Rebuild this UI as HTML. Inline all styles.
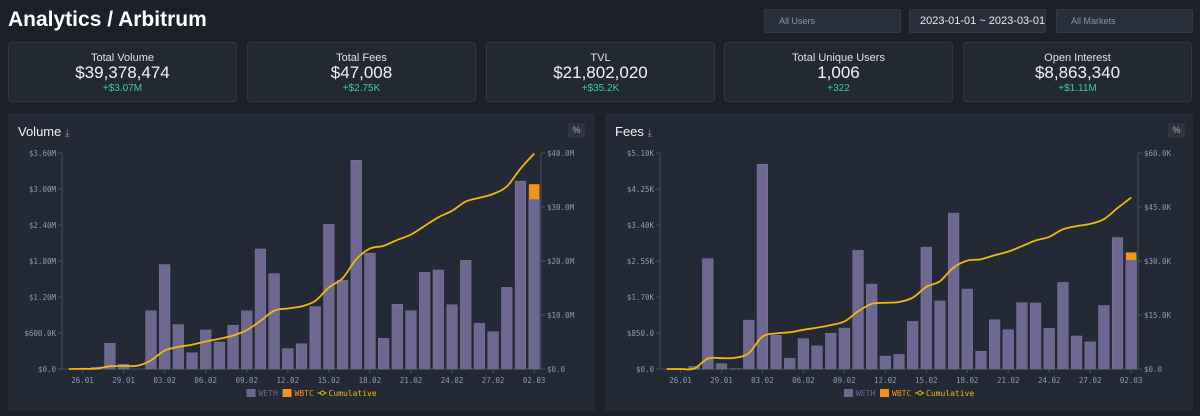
<!DOCTYPE html>
<html><head><meta charset="utf-8">
<style>
*{box-sizing:border-box;margin:0;padding:0}
body{width:1200px;height:416px;background:#1b2029;font-family:"Liberation Sans",sans-serif;color:#e8eaef;position:relative;overflow:hidden}
.title{position:absolute;left:8px;top:8px;font-size:21px;font-weight:bold;color:#fff}
.filter{position:absolute;top:9px;height:24px;width:137px;background:#2a303b;border:1px solid #333a46;border-radius:2px;font-size:9px;color:#8a909c;padding:6px 14px;white-space:nowrap;overflow:hidden}
.filter.date{font-size:11px;color:#e8eaef;padding:5px 10px}
.card{position:absolute;top:42px;height:60px;width:229px;background:#232933;border:1px solid #313844;border-radius:3px;text-align:center}
.card .l{font-size:11px;margin-top:9px;color:#e0e3e8}
.card .v{font-size:17px;line-height:18px;color:#f2f3f5}
.card .d{font-size:10px;color:#3ecf8e;margin-top:1px}
.panel{position:absolute;top:113px;height:298px;background:#232a35;border-radius:3px}
.ptitle{position:absolute;left:10px;top:11px;font-size:13px;color:#f0f2f5}
.pct{position:absolute;top:10px;width:17px;height:15px;background:#2e343e;border-radius:2px;font-size:9px;color:#aab;text-align:center;line-height:15px}
svg text{font-family:"DejaVu Sans Mono","Liberation Mono",monospace}
</style></head><body>
<div class="title">Analytics / Arbitrum</div>
<div class="filter" style="left:764px">All Users</div>
<div class="filter date" style="left:909px">2023-01-01 ~ 2023-03-01</div>
<div class="filter" style="left:1056px">All Markets</div>

<div class="card" style="left:8px"><div class="l">Total Volume</div><div class="v">$39,378,474</div><div class="d">+$3.07M</div></div>
<div class="card" style="left:247px"><div class="l">Total Fees</div><div class="v">$47,008</div><div class="d">+$2.75K</div></div>
<div class="card" style="left:486px"><div class="l">TVL</div><div class="v">$21,802,020</div><div class="d">+$35.2K</div></div>
<div class="card" style="left:724px"><div class="l">Total Unique Users</div><div class="v">1,006</div><div class="d">+322</div></div>
<div class="card" style="left:963px"><div class="l">Open Interest</div><div class="v">$8,863,340</div><div class="d">+$1.11M</div></div>

<div class="panel" style="left:8px;width:587px">
<div class="ptitle">Volume <span style="font-size:10px;color:#99a">⤓</span></div>
<div class="pct" style="left:560px">%</div>
<svg id="vol" width="587" height="298" style="position:absolute;left:0;top:0"></svg>
</div>
<div class="panel" style="left:605px;width:588px">
<div class="ptitle">Fees <span style="font-size:10px;color:#99a">⤓</span></div>
<div class="pct" style="left:563px">%</div>
<svg id="fee" width="588" height="298" style="position:absolute;left:0;top:0"></svg>
</div>

<script>
const dates=["25.01","26.01","27.01","28.01","29.01","31.01","02.02","03.02","04.02","05.02","06.02","07.02","08.02","09.02","10.02","11.02","12.02","13.02","14.02","15.02","16.02","17.02","18.02","19.02","20.02","21.02","22.02","23.02","24.02","25.02","26.02","27.02","28.02","01.03","02.03"];
const tickIdx=[1,4,7,10,13,16,19,22,25,28,31,34];
const volWeth=[0,0,0.03,0.43,0.08,0,0.97,1.74,0.74,0.27,0.65,0.45,0.73,0.97,2.0,1.59,0.34,0.42,1.04,2.41,1.48,3.48,1.93,0.51,1.08,0.97,1.61,1.65,1.07,1.81,0.76,0.62,1.36,3.13,2.83];
const volWbtc=[0,0,0,0,0,0,0,0,0,0,0,0,0,0,0,0,0,0,0,0,0,0,0,0,0,0,0,0,0,0,0,0,0,0,0.25];
const volCum=[0,0.03,0.08,0.5,0.55,0.6,1.6,3.4,4.1,4.5,5.1,5.6,6.2,7.2,8.9,10.8,11.2,11.6,12.6,15.1,16.8,20.3,22.3,22.8,23.9,24.9,26.5,28.1,29.3,31.0,31.7,32.4,33.8,37.1,39.9];
const volLeftTicks=["$0.0","$600.0K","$1.20M","$1.80M","$2.40M","$3.00M","$3.60M"];
const volRightTicks=["$0.0","$10.0M","$20.0M","$30.0M","$40.0M"];
const feeWeth=[0,0.01,0.06,2.605,0.125,0.005,1.154,4.835,0.795,0.25,0.717,0.546,0.842,0.967,2.8,2.004,0.304,0.343,1.123,2.877,1.606,3.681,1.887,0.421,1.162,0.928,1.567,1.56,0.959,2.043,0.78,0.639,1.497,3.104,2.573];
const feeWbtc=[0,0,0,0,0,0,0,0,0,0,0,0,0,0,0,0,0,0,0,0,0,0,0,0,0,0,0,0,0,0,0,0,0,0,0.18];
const feeCum=[0,0,0.1,2.9,3.0,3.1,4.4,9.0,9.9,10.2,10.9,11.5,12.2,13.2,16.0,18.1,18.4,18.6,19.8,22.8,24.4,28.2,30.1,30.5,31.6,32.6,34.1,35.7,36.7,38.8,39.7,40.3,41.6,44.7,47.6];
const feeLeftTicks=["$0.0","$850.0","$1.70K","$2.55K","$3.40K","$4.25K","$5.10K"];
const feeRightTicks=["$0.0","$15.0K","$30.0K","$45.0K","$60.0K"];

const NS="http://www.w3.org/2000/svg";
function mk(svg,tag,attrs){const e=document.createElementNS(NS,tag);for(const k in attrs)e.setAttribute(k,attrs[k]);svg.appendChild(e);return e;}
function smooth(pts){
  let d='M'+pts[0][0].toFixed(1)+','+pts[0][1].toFixed(1);
  for(let i=0;i<pts.length-1;i++){
    const p0=pts[Math.max(0,i-1)],p1=pts[i],p2=pts[i+1],p3=pts[Math.min(pts.length-1,i+2)];
    const c1x=p1[0]+(p2[0]-p0[0])/6,c1y=p1[1]+(p2[1]-p0[1])/6;
    const c2x=p2[0]-(p3[0]-p1[0])/6,c2y=p2[1]-(p3[1]-p1[1])/6;
    d+='C'+c1x.toFixed(1)+','+c1y.toFixed(1)+' '+c2x.toFixed(1)+','+c2y.toFixed(1)+' '+p2[0].toFixed(1)+','+p2[1].toFixed(1);
  }
  return d;
}
function draw(id,x0,x1,weth,wbtc,cum,lt,rt,lmax,rmax,prefix){
  const svg=document.getElementById(id);
  const yT=40,yB=256;
  const n=dates.length,band=(x1-x0)/n;
  const xc=i=>x0+band*(i+0.5);
  const yL=v=>yB-(v/lmax)*(yB-yT);
  const yR=v=>yB-(v/rmax)*(yB-yT);
  let a=mk(svg,'line',{x1:x0,x2:x0,y1:yT,y2:yB,stroke:'#4a505c'});
  
  a=mk(svg,'line',{x1:x1,x2:x1,y1:yT,y2:yB,stroke:'#4a505c'});
  
  a=mk(svg,'line',{x1:x0,x2:x1,y1:yB,y2:yB,stroke:'#4a505c'});
  
  lt.forEach((t,k)=>{const y=yB-k*(yB-yT)/(lt.length-1);
    mk(svg,'line',{x1:x0-4,x2:x0,y1:y,y2:y,stroke:'#4a505c'});
    const e=mk(svg,'text',{x:x0-6,y:y+3,'text-anchor':'end','font-size':7.5,fill:'#8f97b3'});e.textContent=t;
    });
  rt.forEach((t,k)=>{const y=yB-k*(yB-yT)/(rt.length-1);
    mk(svg,'line',{x1:x1,x2:x1+4,y1:y,y2:y,stroke:'#4a505c'});
    const e=mk(svg,'text',{x:x1+6,y:y+3,'font-size':7.5,fill:'#8f97b3'});e.textContent=t;
    });
  tickIdx.forEach(i=>{mk(svg,'line',{x1:xc(i),x2:xc(i),y1:yB,y2:yB+4,stroke:'#4a505c'});
    const e=mk(svg,'text',{x:xc(i),y:yB+14,'text-anchor':'middle','font-size':7.5,fill:'#8f97b3'});e.textContent=dates[i];
    });
  const bw=band*0.78;
  weth.forEach((v,i)=>{if(v<=0)return;
    const r=mk(svg,'rect',{x:xc(i)-bw/2,y:yL(v),width:bw,height:yB-yL(v),fill:'#6e6890',stroke:'#7f79a3','stroke-width':0.5});
    
    if(wbtc[i]>0){const b=mk(svg,'rect',{x:xc(i)-bw/2,y:yL(v+wbtc[i]),width:bw,height:yL(v)-yL(v+wbtc[i]),fill:'#f7931a'});
      }
  });
  const pts=cum.map((v,i)=>[xc(i),yR(v)]);
  const p=mk(svg,'path',{d:smooth(pts),fill:'none',stroke:'#f2b70f','stroke-width':1.8,'stroke-linejoin':'round'});
  
  const cx=(x0+x1)/2-55,ly=280;
  const g=mk(svg,'g',{});
  mk(g,'rect',{x:cx,y:ly-4,width:9,height:8,fill:'#6e6890'});
  let t=mk(g,'text',{x:cx+12,y:ly+3,'font-size':8,fill:'#6e6890'});t.textContent='WETH';
  mk(g,'rect',{x:cx+36,y:ly-4,width:9,height:8,fill:'#f7931a'});
  t=mk(g,'text',{x:cx+48,y:ly+3,'font-size':8,fill:'#f7931a'});t.textContent='WBTC';
  mk(g,'line',{x1:cx+71,x2:cx+80,y1:ly,y2:ly,stroke:'#f2b70f','stroke-width':1.2});
  mk(g,'circle',{cx:cx+76,cy:ly,r:2,fill:'#232a35',stroke:'#f2b70f'});
  t=mk(g,'text',{x:cx+82,y:ly+3,'font-size':8,fill:'#f2b70f'});t.textContent='Cumulative';
}
draw('vol',54,533,volWeth,volWbtc,volCum,volLeftTicks,volRightTicks,3.6,40,'volume');
draw('fee',55,533,feeWeth,feeWbtc,feeCum,feeLeftTicks,feeRightTicks,5.1,60,'fees');
</script>
</body></html>
